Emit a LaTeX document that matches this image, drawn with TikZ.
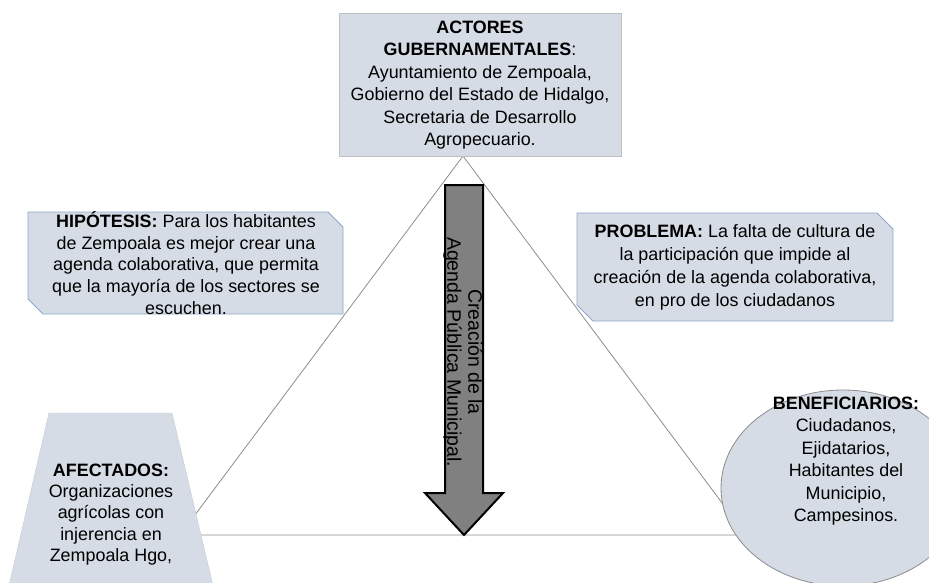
\documentclass[tikz,border=0pt]{standalone}
\usepackage{fontspec}
\setmainfont{Liberation Sans}
\usepackage{xcolor}
\usepackage{tikz}

\definecolor{boxfill}{HTML}{D6DCE5}
\definecolor{boxline}{HTML}{BFBFBF}
\definecolor{snipline}{HTML}{8EA6C9}
\definecolor{arrowfill}{HTML}{808080}

\tikzset{
  txt/.style={align=center, inner sep=0pt, font=\fontsize{17.9}{22.5}\selectfont},
}

\begin{document}
\begin{tikzpicture}[x=1pt,y=-1pt]
\useasboundingbox (0,0) rectangle (929,582);
\def\snip{15};

% triangle %
\coordinate (apex) at (463,156);
\coordinate (lv) at (180,535);
\coordinate (rv) at (746,535);
\draw[draw=gray!90, line width=0.8pt] (apex) -- (lv) -- (rv) -- cycle;

% actores gubernamentales %
\draw[fill=boxfill, draw=boxline, line width=0.8pt] (339,13) rectangle (621,156);
\node[txt] (actores) at (480,85) {\textbf{ACTORES}\\\textbf{GUBERNAMENTALES}:\\Ayuntamiento de Zempoala,\\Gobierno del Estado de Hidalgo,\\Secretaria de Desarrollo\\Agropecuario.};

% hipotesis %
\draw[fill=boxfill, draw=snipline, line width=0.8pt] (28,212) -- (343-\snip,212) -- (343,212+\snip) -- (343,314) -- (28+\snip,314) -- (28,314-\snip) -- cycle;
\node[txt, font=\fontsize{17.9}{21.7}\selectfont] (hipotesis) at (186,263) {\textbf{HIPÓTESIS:} Para los habitantes\\de Zempoala es mejor crear una\\agenda colaborativa, que permita\\que la mayoría de los sectores se\\escuchen.};

% problema %
\draw[fill=boxfill, draw=snipline, line width=0.8pt] (577,213) -- (893-16,213) -- (893,213+16) -- (893,321) -- (577+16,321) -- (577,321-16) -- cycle;
\node[txt, font=\fontsize{17.9}{23}\selectfont] (problema) at (735,267.5) {\textbf{PROBLEMA:} La falta de cultura de\\la participación que impide al\\creación de la agenda colaborativa,\\en pro de los ciudadanos};

% afectados %
\draw[fill=boxfill, draw=boxfill!80!gray] (49,413) -- (172,413) -- (214,590) -- (8,590) -- cycle;
\node[txt, font=\fontsize{17.9}{21.3}\selectfont] (afectados) at (111,514.5) {\textbf{AFECTADOS:}\\Organizaciones\\agrícolas con\\injerencia en\\Zempoala Hgo,};

% beneficiarios %
\draw[fill=boxfill, draw=gray!90, line width=0.8pt] (843,488) ellipse [x radius=122, y radius=98];
\node[txt, font=\fontsize{17.9}{22.4}\selectfont] (beneficiarios) at (846,461) {\textbf{BENEFICIARIOS:}\\Ciudadanos,\\Ejidatarios,\\Habitantes del\\Municipio,\\Campesinos.};

% flecha central %
\draw[fill=arrowfill, draw=black, line width=2pt, line join=miter] (445,185) -- (483,185) -- (483,493) -- (503,493) -- (464,535) -- (425,493) -- (445,493) -- cycle;
\node[txt, rotate=-90, font=\fontsize{19.5}{21}\selectfont] (agenda) at (463,352) {Creación de la\\Agenda Pública  Municipal.};

\end{tikzpicture}
\end{document}
